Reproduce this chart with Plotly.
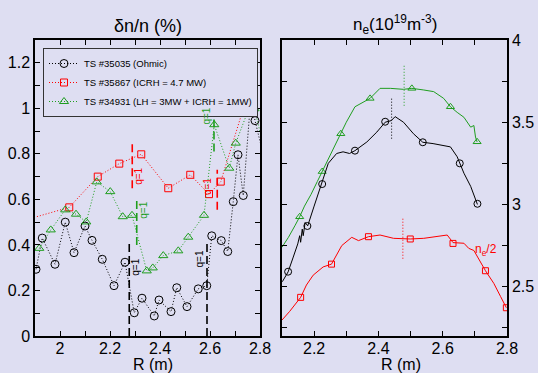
import plotly.graph_objects as go

# ---------------- Left panel: fluctuation level dn/n (%) ----------------
ohmic_R = [1.904, 1.929, 1.980, 2.021, 2.056, 2.100, 2.128, 2.169, 2.216, 2.260, 2.297, 2.328,
           2.377, 2.396, 2.444, 2.467, 2.508, 2.553, 2.587, 2.607, 2.645, 2.671, 2.693, 2.712,
           2.733, 2.764, 2.780, 2.830]
ohmic_dn = [0.293, 0.430, 0.315, 0.500, 0.366, 0.483, 0.420, 0.337, 0.221, 0.324, 0.102, 0.166,
            0.088, 0.158, 0.107, 0.212, 0.129, 0.207, 0.221, 0.440, 0.419, 0.371, 0.590, 0.796,
            0.617, 1.056, 0.946, 0.720]

icrh_R = [1.850, 2.037, 2.151, 2.237, 2.325, 2.433, 2.521, 2.596, 2.643, 2.743]
icrh_dn = [0.506, 0.565, 0.700, 0.757, 0.798, 0.649, 0.708, 0.623, 0.678, 1.033]

lh_R = [1.917, 1.963, 2.021, 2.064, 2.105, 2.147, 2.201, 2.251, 2.288, 2.347, 2.371, 2.413,
        2.473, 2.513, 2.576, 2.617, 2.677, 2.703, 2.755, 2.778, 2.830]
lh_dn = [0.385, 0.466, 0.554, 0.535, 0.501, 0.677, 0.634, 0.524, 0.530, 0.286, 0.299, 0.353,
         0.374, 0.434, 0.530, 0.928, 0.737, 0.847, 0.998, 0.998, 0.760]

# q=1 radii (left panel): position, y-extent, label position
q1_ohmic_R = [2.277, 2.588]
q1_ohmic_y = [(0.0, 0.41), (0.0, 0.41)]
q1_ohmic_lbl = [(2.304, 0.30), (2.557, 0.337)]
q1_icrh_R = [2.289, 2.629]
q1_icrh_y = [(0.649, 0.858), (0.554, 0.730)]
q1_icrh_lbl = [(2.313, 0.70), (2.593, 0.655)]
q1_lh_R = [2.307, 2.616]
q1_lh_y = [(0.40, 0.605), (0.81, 1.04)]
q1_lh_lbl = [(2.336, 0.55), (2.587, 0.967)]

# ---------------- Right panel: density profiles ----------------
ne_ohm_R = [2.101, 2.119, 2.135, 2.149, 2.155, 2.158, 2.163, 2.166, 2.172, 2.180, 2.200, 2.222,
            2.244, 2.270, 2.290, 2.310, 2.327, 2.364, 2.395, 2.421, 2.440, 2.452, 2.478, 2.509,
            2.538, 2.570, 2.603, 2.624, 2.645, 2.653, 2.666, 2.687, 2.708]
ne_ohm = [2.53, 2.59, 2.68, 2.76, 2.81, 2.77, 2.85, 2.81, 2.89, 2.87, 2.99, 3.12,
          3.25, 3.31, 3.32, 3.31, 3.327, 3.38, 3.44, 3.50, 3.51, 3.534, 3.50, 3.43,
          3.378, 3.37, 3.36, 3.35, 3.29, 3.25, 3.19, 3.11, 3.00]
ne_ohm_mk_R = [2.119, 2.179, 2.225, 2.327, 2.421, 2.538, 2.653, 2.708]
ne_ohm_mk = [2.591, 2.869, 3.124, 3.327, 3.503, 3.378, 3.250, 3.004]

ne_lh_R = [2.100, 2.120, 2.140, 2.155, 2.170, 2.190, 2.210, 2.225, 2.245, 2.265, 2.283, 2.300,
           2.327, 2.350, 2.374, 2.405, 2.437, 2.478, 2.504, 2.541, 2.572, 2.603, 2.624, 2.645,
           2.666, 2.687, 2.697, 2.702, 2.707]
ne_lh = [2.74, 2.80, 2.87, 2.925, 2.99, 3.06, 3.14, 3.20, 3.28, 3.36, 3.43, 3.50,
         3.594, 3.62, 3.645, 3.706, 3.706, 3.70, 3.706, 3.696, 3.686, 3.645, 3.594, 3.56,
         3.53, 3.47, 3.48, 3.41, 3.38]
ne_lh_mk_R = [2.155, 2.225, 2.283, 2.374, 2.504, 2.624, 2.707]
ne_lh_mk = [2.925, 3.200, 3.430, 3.645, 3.706, 3.594, 3.381]

ne_icrh_R = [2.100, 2.124, 2.158, 2.176, 2.197, 2.228, 2.254, 2.286, 2.317, 2.338, 2.369, 2.405,
             2.447, 2.499, 2.541, 2.583, 2.614, 2.632, 2.666, 2.681, 2.697, 2.733, 2.759, 2.780,
             2.798]
ne_icrh = [2.297, 2.35, 2.435, 2.51, 2.57, 2.62, 2.637, 2.75, 2.80, 2.78, 2.804, 2.814,
           2.794, 2.79, 2.794, 2.804, 2.814, 2.768, 2.764, 2.733, 2.72, 2.597, 2.52, 2.44,
           2.372]
ne_icrh_mk_R = [2.158, 2.254, 2.369, 2.499, 2.632, 2.733, 2.798]
ne_icrh_mk = [2.435, 2.637, 2.804, 2.790, 2.763, 2.597, 2.372]

# reference dotted markers in right panel
ref_R = [2.441, 2.480, 2.476]
ref_y = [(3.40, 3.645), (3.60, 3.85), (2.67, 2.915)]
ref_col = ["black", "#22a022", "red"]

BG = "#dedef2"
BLACK = "black"
RED = "red"
GREEN = "#1f9e1f"
FONT = "Liberation Sans, Arial, sans-serif"
DOT = "1px,2px"

fig = go.Figure()

# left panel traces
fig.add_trace(go.Scatter(x=ohmic_R, y=ohmic_dn, mode="lines+markers", name="TS #35035 (Ohmic)",
                         line=dict(color=BLACK, width=1, dash=DOT),
                         marker=dict(symbol="circle-open", size=8, color=BLACK, line=dict(width=1)),
                         xaxis="x", yaxis="y"))
fig.add_trace(go.Scatter(x=icrh_R, y=icrh_dn, mode="lines+markers", name="TS #35867 (ICRH = 4.7 MW)",
                         line=dict(color=RED, width=1, dash=DOT),
                         marker=dict(symbol="square-open", size=7, color=RED, line=dict(width=1)),
                         xaxis="x", yaxis="y"))
fig.add_trace(go.Scatter(x=lh_R, y=lh_dn, mode="lines+markers", name="TS #34931 (LH = 3MW + ICRH = 1MW)",
                         line=dict(color=GREEN, width=1, dash=DOT),
                         marker=dict(symbol="triangle-up-open", size=8, color=GREEN, line=dict(width=1)),
                         xaxis="x", yaxis="y"))

# right panel traces
for R, ne, mR, mne, col, sym, sz in [
    (ne_lh_R, ne_lh, ne_lh_mk_R, ne_lh_mk, GREEN, "triangle-up-open", 7),
    (ne_ohm_R, ne_ohm, ne_ohm_mk_R, ne_ohm_mk, BLACK, "circle-open", 7),
    (ne_icrh_R, ne_icrh, ne_icrh_mk_R, ne_icrh_mk, RED, "square-open", 6),
]:
    fig.add_trace(go.Scatter(x=R, y=ne, mode="lines", line=dict(color=col, width=1),
                             showlegend=False, xaxis="x2", yaxis="y2"))
    fig.add_trace(go.Scatter(x=mR, y=mne, mode="markers", showlegend=False,
                             marker=dict(symbol=sym, size=sz, color=col, line=dict(width=1)),
                             xaxis="x2", yaxis="y2"))

shapes = []
annotations = []
for Rs, ys, lbls, col in [(q1_ohmic_R, q1_ohmic_y, q1_ohmic_lbl, BLACK),
                          (q1_icrh_R, q1_icrh_y, q1_icrh_lbl, RED),
                          (q1_lh_R, q1_lh_y, q1_lh_lbl, GREEN)]:
    for r, (y0, y1), (lx, ly) in zip(Rs, ys, lbls):
        shapes.append(dict(type="line", xref="x", yref="y", x0=r, x1=r, y0=y0, y1=y1,
                           line=dict(color=col, width=1.6, dash="8px,4px")))
        annotations.append(dict(x=lx, y=ly, xref="x", yref="y", text="q=1", showarrow=False,
                                textangle=-90, font=dict(family=FONT, size=10, color=col)))

for r, (y0, y1), col in zip(ref_R, ref_y, ref_col):
    shapes.append(dict(type="line", xref="x2", yref="y2", x0=r, x1=r, y0=y0, y1=y1,
                       line=dict(color=col, width=1, dash=DOT)))

annotations.append(dict(x=2.735, y=2.72, xref="x2", yref="y2", text="n<sub>e</sub>/2", showarrow=False,
                        font=dict(family=FONT, size=12, color=RED)))
title_common = dict(xref="paper", yref="paper", showarrow=False, xanchor="center", yanchor="middle")
annotations.append(dict(x=147.5 / 538, y=1 - 26 / 373, text="δn/n (%)",
                        font=dict(family=FONT, size=18, color="black"), **title_common))
annotations.append(dict(x=394.5 / 538, y=1 - 24 / 373,
                        text="n<sub>e</sub>(10<sup>19</sup>m<sup>-3</sup>)",
                        font=dict(family=FONT, size=17, color="black"), **title_common))
annotations.append(dict(x=153 / 538, y=1 - 364.5 / 373, text="R (m)",
                        font=dict(family=FONT, size=16, color="black"), **title_common))
annotations.append(dict(x=401 / 538, y=1 - 364.5 / 373, text="R (m)",
                        font=dict(family=FONT, size=16, color="black"), **title_common))

axis_common = dict(showline=True, linecolor="black", linewidth=1.5, mirror="ticks", ticks="inside",
                   ticklen=5, tickwidth=1.2, tickcolor="black", showgrid=False, zeroline=False,
                   automargin=False,
                   tickfont=dict(family=FONT, size=16, color="black"))

fig.update_layout(
    width=538, height=373,
    margin=dict(l=0, r=0, t=0, b=0, pad=0),
    paper_bgcolor=BG, plot_bgcolor=BG,
    font=dict(family=FONT, color="black"),
    xaxis=dict(domain=[35 / 538, 260 / 538], range=[1.9, 2.8], dtick=0.2, tick0=2,
               minor=dict(dtick=0.1, ticks="inside", ticklen=5, tickcolor="black"),
               ticklabelstandoff=-3, anchor="y", **axis_common),
    yaxis=dict(domain=[1 - 336 / 373, 1 - 40 / 373], range=[0, 1.3], dtick=0.2, tick0=0,
               minor=dict(dtick=0.1, ticks="inside", ticklen=5, tickcolor="black"),
               anchor="x", **axis_common),
    xaxis2=dict(domain=[282 / 538, 507 / 538], range=[2.1, 2.8], dtick=0.2, tick0=2.2,
                minor=dict(dtick=0.1, ticks="inside", ticklen=5, tickcolor="black"),
                ticklabelstandoff=-3, anchor="y2", **axis_common),
    yaxis2=dict(domain=[1 - 336 / 373, 1 - 40 / 373], range=[2.2, 4], dtick=0.5, tick0=2.5,
                minor=dict(dtick=0.25, ticks="inside", ticklen=5, tickcolor="black"),
                side="right", anchor="x2", **axis_common),
    legend=dict(x=43 / 538, y=1 - 48 / 373, xanchor="left", yanchor="top", bgcolor=BG,
                bordercolor="#333333", borderwidth=1, font=dict(family=FONT, size=9.5, color="black"),
                tracegroupgap=0, itemwidth=30),
    shapes=shapes, annotations=annotations,
)

fig.write_html("out.html", config={"displayModeBar": False},
               post_script="document.body.style.margin='0';document.body.style.background='%s';" % BG)
